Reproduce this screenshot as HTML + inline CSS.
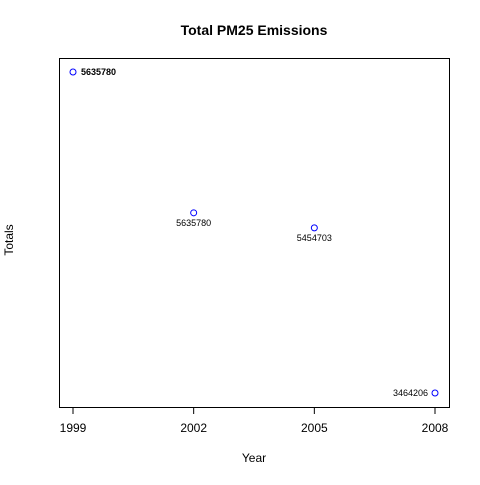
<!DOCTYPE html>
<html><head><meta charset="utf-8"><style>body{margin:0;background:#fff}svg{font-family:"Liberation Sans",sans-serif}</style></head>
<body>
<svg width="480" height="480">
<text x="254" y="35" text-anchor="middle" font-size="14" font-weight="bold">Total PM25 Emissions</text>
<rect x="59.5" y="58.5" width="390" height="349" fill="none" stroke="#000"/>
<text x="254" y="462" text-anchor="middle" font-size="12">Year</text>
<text transform="translate(13,240) rotate(-90)" text-anchor="middle" font-size="12">Totals</text>
<g id="xaxis"></g>
<g id="marks"></g>
</svg>
<script>
const years=[1999,2002,2005,2008];
const totals=[7332967,5635780,5454703,3464206];
const labels=["5635780","5635780","5454703","3464206"];
const ticks=[1999,2002,2005,2008];
const NS="http://www.w3.org/2000/svg";
const xmin=Math.min(...years),xmax=Math.max(...years),ymin=Math.min(...totals),ymax=Math.max(...totals);
const X=v=>73+(v-xmin)/(xmax-xmin)*362;
const Y=v=>393-(v-ymin)/(ymax-ymin)*321;
function mk(t,a,p){const e=document.createElementNS(NS,t);for(const k in a)e.setAttribute(k,a[k]);p.appendChild(e);return e;}
const ax=document.getElementById('xaxis');
mk('line',{x1:X(ticks[0]),x2:X(ticks[ticks.length-1]),y1:407.5,y2:407.5,stroke:'#000'},ax);
ticks.forEach(t=>{
 const l=mk('line',{x1:X(t),x2:X(t),y1:407.5,y2:414,stroke:'#000'},ax);
 
 
 const tx=mk('text',{x:X(t),y:432,'text-anchor':'middle','font-size':12},ax);tx.textContent=t;
 
 
});
const g=document.getElementById('marks');
years.forEach((yr,i)=>{
 const c=mk('circle',{cx:X(yr),cy:Y(totals[i]),r:3,fill:'none',stroke:'#00f'},g);
 
 
 let a;
 if(i===0){a={x:X(yr)+8,y:Y(totals[i])+3,'text-anchor':'start','font-weight':'bold'};}
 else if(i===years.length-1){a={x:X(yr)-7,y:Y(totals[i])+3,'text-anchor':'end'};}
 else a={x:X(yr),y:Y(totals[i])+13,'text-anchor':'middle'};
 a['font-size']=9;
 const t=mk('text',a,g);t.textContent=labels[i];
 
 
});
</script>
</body></html>
